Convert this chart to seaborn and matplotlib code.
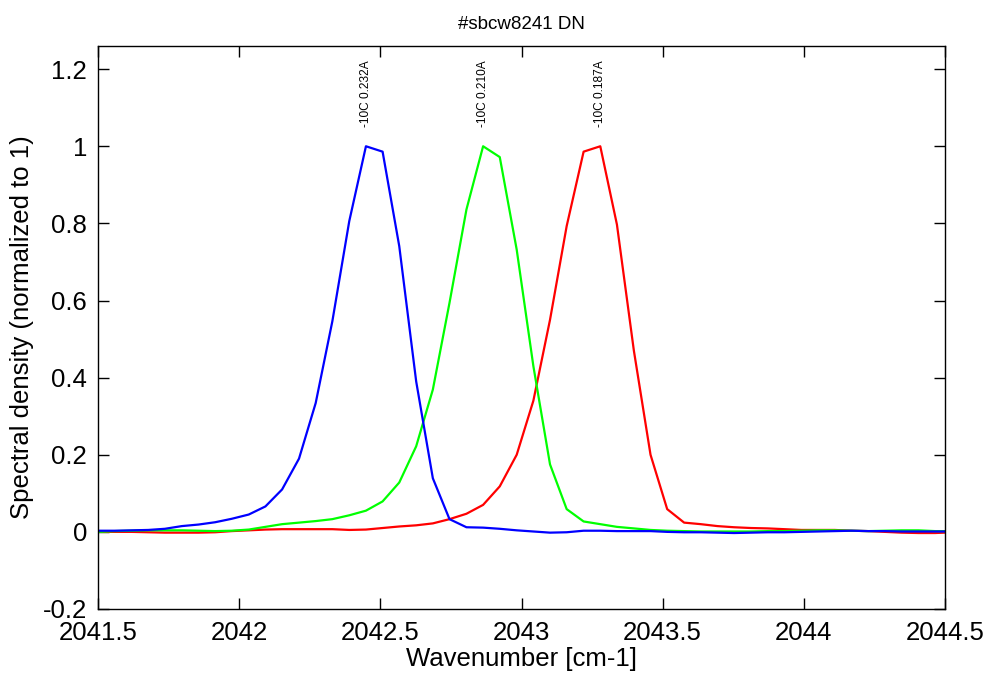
import matplotlib
matplotlib.use("Agg")
import matplotlib.pyplot as plt
from matplotlib.ticker import FuncFormatter, MultipleLocator
import seaborn as sns
import pandas as pd

wavenumber = [
    2041.500, 2041.559, 2041.619, 2041.678, 2041.737, 2041.797, 2041.856, 2041.915,
    2041.974, 2042.034, 2042.093, 2042.152, 2042.212, 2042.271, 2042.330, 2042.390,
    2042.449, 2042.508, 2042.567, 2042.627, 2042.686, 2042.745, 2042.805, 2042.864,
    2042.923, 2042.983, 2043.042, 2043.101, 2043.160, 2043.220, 2043.279, 2043.338,
    2043.398, 2043.457, 2043.516, 2043.576, 2043.635, 2043.694, 2043.753, 2043.813,
    2043.872, 2043.931, 2043.991, 2044.050, 2044.109, 2044.169, 2044.228, 2044.287,
    2044.346, 2044.406, 2044.465, 2044.524]

red_0187A = [
    0.000, 0.000, 0.000, -0.001, -0.002, -0.002, -0.002, -0.001,
    0.002, 0.004, 0.006, 0.007, 0.007, 0.007, 0.007, 0.005,
    0.006, 0.010, 0.014, 0.017, 0.022, 0.033, 0.047, 0.070,
    0.118, 0.200, 0.340, 0.550, 0.793, 0.986, 1.000, 0.797,
    0.470, 0.200, 0.059, 0.024, 0.020, 0.015, 0.012, 0.010,
    0.009, 0.007, 0.005, 0.005, 0.005, 0.003, 0.002, 0.000,
    -0.002, -0.003, -0.003, -0.001]

green_0210A = [
    0.000, 0.002, 0.003, 0.004, 0.004, 0.004, 0.003, 0.002,
    0.003, 0.006, 0.013, 0.020, 0.024, 0.028, 0.033, 0.043,
    0.055, 0.079, 0.128, 0.222, 0.369, 0.594, 0.836, 1.000,
    0.972, 0.732, 0.430, 0.175, 0.059, 0.027, 0.020, 0.013,
    0.009, 0.005, 0.003, 0.002, 0.001, 0.001, 0.001, 0.001,
    0.002, 0.002, 0.003, 0.004, 0.004, 0.003, 0.002, 0.003,
    0.004, 0.004, 0.002, 0.002]

blue_0232A = [
    0.003, 0.003, 0.004, 0.005, 0.008, 0.015, 0.019, 0.025,
    0.034, 0.045, 0.066, 0.110, 0.190, 0.334, 0.546, 0.806,
    1.000, 0.986, 0.741, 0.390, 0.139, 0.033, 0.012, 0.011,
    0.008, 0.004, 0.001, -0.002, -0.001, 0.003, 0.003, 0.002,
    0.002, 0.002, 0.000, -0.001, -0.001, -0.002, -0.003, -0.002,
    -0.001, -0.001, 0.000, 0.001, 0.002, 0.003, 0.002, 0.002,
    0.001, 0.001, 0.001, 0.001]

series_labels = ["-10C 0.187A", "-10C 0.210A", "-10C 0.232A"]
series_values = [red_0187A, green_0210A, blue_0232A]
series_colors = ["#ff0000", "#00ff00", "#0000ff"]
peak_positions = [2043.279, 2042.864, 2042.449]

title_text = "#sbcw8241 DN"
x_label = "Wavenumber [cm-1]"
y_label = "Spectral density (normalized to 1)"

sns.set_style("ticks")
plt.rcParams["font.family"] = ["Liberation Sans", "DejaVu Sans"]
plt.rcParams["text.color"] = "black"
plt.rcParams["axes.labelcolor"] = "black"

frames = []
for lab, vals in zip(series_labels, series_values):
    frames.append(pd.DataFrame({"wavenumber": wavenumber, "density": vals, "series": lab}))
df = pd.concat(frames, ignore_index=True)

fig = plt.figure(figsize=(9.96, 6.75), dpi=100)
ax = fig.add_axes([98 / 996, 1 - 609 / 675, (945 - 98) / 996, (609 - 46) / 675])

sns.lineplot(data=df, x="wavenumber", y="density", hue="series",
             palette=dict(zip(series_labels, series_colors)),
             hue_order=series_labels, linewidth=1.6, legend=False, ax=ax,
             estimator=None, sort=False)

for lab, px in zip(series_labels, peak_positions):
    ax.text(px, 1.05, lab, rotation=90, ha="center", va="bottom", fontsize=8.6,
            color="black")

ax.set_xlim(2041.5, 2044.5)
ax.set_ylim(-0.2, 1.26)
ax.xaxis.set_major_locator(MultipleLocator(0.5))
ax.yaxis.set_major_locator(MultipleLocator(0.2))
ax.xaxis.set_major_formatter(FuncFormatter(lambda v, p: f"{v:g}"))
ax.yaxis.set_major_formatter(FuncFormatter(lambda v, p: "0" if abs(v) < 1e-9 else f"{v:g}"))

ax.tick_params(direction="in", length=8, width=1, top=True, right=True,
               labelsize=18.5, colors="black")
ax.tick_params(axis="x", pad=9)
ax.tick_params(axis="y", pad=8)
for s in ax.spines.values():
    s.set_linewidth(1.0)
    s.set_color("black")

ax.set_xlabel(x_label, fontsize=18.5, labelpad=1, color="black")
ax.set_ylabel(y_label, fontsize=18.5, labelpad=6, color="black")
ax.set_title(title_text, fontsize=13.5, pad=12, color="black")

fig.savefig("out.png", dpi=100)
